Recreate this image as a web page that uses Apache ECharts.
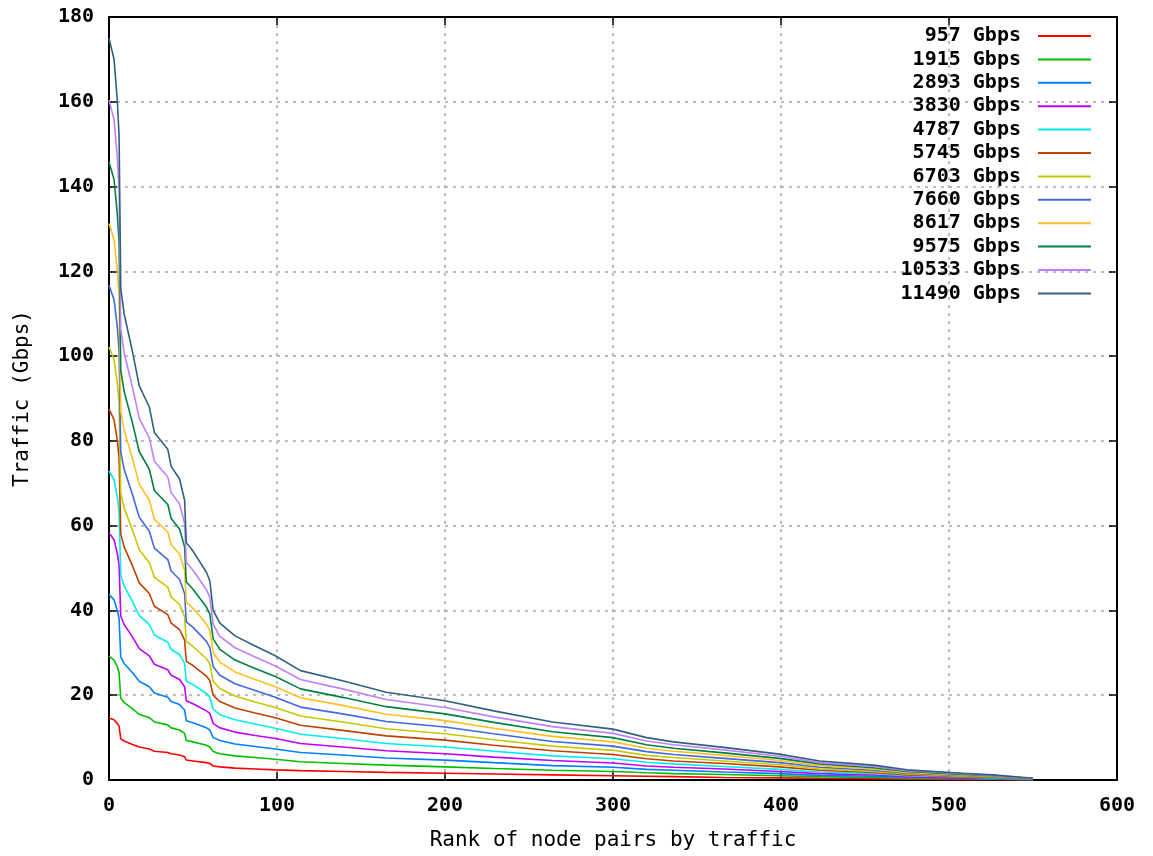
<!DOCTYPE html>
<html>
<head>
<meta charset="UTF-8">
<title>Traffic by node pair rank</title>
<script src="https://cdn.jsdelivr.net/npm/echarts@6/dist/echarts.min.js"></script>
<style type="text/css">
	*{margin:0;padding:0;}
	body{background:#fff;}
	#main{width:1153px;height:856px;}
</style>
</head>
<body>
<div id="main"></div>
<script type="text/javascript">
// rank of node pair (x) shared by every curve
var rank = [0,3,5,6,7,9,14,18,24,27,35,37,42,45,46,50,58,60,62,66,75,87,99,114,139,165,200,229,264,300,320,336,366,399,423,455,475,508,526,550];

// traffic (Gbps) per total load
var t957   = [14.6,14.2,13.3,12.7,9.7,9.2,8.4,7.8,7.3,6.8,6.5,6.2,5.9,5.5,4.7,4.5,4.1,3.9,3.3,3.1,2.8,2.6,2.4,2.2,2.0,1.8,1.6,1.4,1.2,1.0,0.9,0.8,0.6,0.5,0.4,0.3,0.2,0.1,0.1,0.05];
var t1915  = [29.2,28.3,26.7,25.3,19.3,18.3,16.8,15.5,14.7,13.7,13.0,12.3,11.8,11.0,9.3,9.0,8.2,7.8,6.7,6.2,5.7,5.3,4.9,4.3,3.9,3.5,3.1,2.7,2.3,2.0,1.7,1.5,1.3,1.0,0.8,0.6,0.4,0.3,0.2,0.07];
var t2893  = [43.8,42.5,40.0,38.0,29.0,27.5,25.3,23.3,22.0,20.5,19.5,18.5,17.8,16.5,14.0,13.5,12.3,11.8,10.0,9.3,8.5,7.9,7.3,6.5,5.9,5.2,4.7,4.1,3.4,3.0,2.5,2.3,1.9,1.5,1.1,0.9,0.6,0.4,0.3,0.1];
var t3830  = [58.3,56.7,53.3,50.7,38.7,36.7,33.7,31.0,29.3,27.3,26.0,24.7,23.7,22.0,18.7,18.0,16.3,15.7,13.3,12.3,11.3,10.5,9.8,8.6,7.8,6.9,6.2,5.4,4.6,4.0,3.3,3.0,2.6,2.0,1.5,1.2,0.8,0.5,0.4,0.13];
var t4787  = [72.9,70.8,66.7,63.3,48.3,45.8,42.1,38.8,36.7,34.2,32.5,30.8,29.6,27.5,23.3,22.5,20.4,19.6,16.7,15.4,14.2,13.2,12.2,10.8,9.8,8.6,7.8,6.8,5.7,5.0,4.2,3.8,3.2,2.5,1.9,1.5,1.0,0.7,0.5,0.17];
var t5745  = [87.5,85.0,80.0,76.0,58.0,55.0,50.5,46.5,44.0,41.0,39.0,37.0,35.5,33.0,28.0,27.0,24.5,23.5,20.0,18.5,17.0,15.8,14.7,12.9,11.7,10.4,9.4,8.2,6.9,6.0,5.0,4.5,3.9,3.1,2.3,1.8,1.2,0.8,0.6,0.2];
var t6703  = [102.1,99.2,93.3,88.7,67.7,64.2,58.9,54.3,51.3,47.8,45.5,43.2,41.4,38.5,32.7,31.5,28.6,27.4,23.3,21.6,19.8,18.4,17.1,15.1,13.7,12.1,10.9,9.5,8.0,7.0,5.8,5.3,4.5,3.6,2.6,2.0,1.4,0.9,0.7,0.23];
var t7660  = [116.7,113.3,106.7,101.3,77.3,73.3,67.3,62.0,58.7,54.7,52.0,49.3,47.3,44.0,37.3,36.0,32.7,31.3,26.7,24.7,22.7,21.1,19.5,17.2,15.6,13.8,12.5,10.9,9.1,8.0,6.7,6.0,5.1,4.1,3.0,2.3,1.6,1.1,0.8,0.27];
var t8617  = [131.3,127.5,120.0,114.0,87.0,82.5,75.8,69.8,66.0,61.5,58.5,55.5,53.3,49.5,42.0,40.5,36.8,35.3,30.0,27.8,25.5,23.7,22.0,19.4,17.6,15.5,14.0,12.2,10.3,9.0,7.5,6.8,5.8,4.6,3.4,2.6,1.8,1.2,0.9,0.3];
var t9575  = [145.8,141.7,133.3,126.7,96.7,91.7,84.2,77.5,73.3,68.3,65.0,61.7,59.2,55.0,46.7,45.0,40.8,39.2,33.3,30.8,28.3,26.3,24.4,21.5,19.5,17.3,15.6,13.6,11.4,10.0,8.3,7.5,6.4,5.1,3.8,2.9,2.0,1.3,1.0,0.33];
var t10533 = [160.4,155.8,146.7,139.3,106.3,100.8,92.6,85.3,80.7,75.2,71.5,67.8,65.1,60.5,51.3,49.5,44.9,43.1,36.7,33.9,31.2,29.0,26.9,23.7,21.5,19.0,17.1,14.9,12.6,11.0,9.2,8.3,7.1,5.6,4.1,3.2,2.2,1.5,1.1,0.37];
var t11490 = [175.0,170.0,160.0,152.0,116.0,110.0,101.0,93.0,88.0,82.0,78.0,74.0,71.0,66.0,56.0,54.0,49.0,47.0,40.0,37.0,34.0,31.6,29.3,25.8,23.4,20.7,18.7,16.3,13.7,12.0,10.0,9.0,7.7,6.1,4.5,3.5,2.4,1.6,1.2,0.4];

var seriesNames = ['957 Gbps','1915 Gbps','2893 Gbps','3830 Gbps','4787 Gbps','5745 Gbps','6703 Gbps','7660 Gbps','8617 Gbps','9575 Gbps','10533 Gbps','11490 Gbps'];
var seriesValues = [t957,t1915,t2893,t3830,t4787,t5745,t6703,t7660,t8617,t9575,t10533,t11490];
var colors = ['#ff0000','#00c000','#0080ff','#c000ff','#00eeee','#c04000','#c8c800','#4169e1','#ffc020','#008040','#c080ff','#306080'];

var font = 'DejaVu Sans Mono';
var series = [];
for (var i = 0; i < seriesNames.length; i++) {
	var pts = [];
	for (var j = 0; j < rank.length; j++) {
		pts.push([rank[j], seriesValues[i][j]]);
	}
	series.push({
		name: seriesNames[i],
		type: 'line',
		data: pts,
		showSymbol: false,
		symbol: 'none',
		lineStyle: {width: 1.6, color: colors[i]},
		itemStyle: {color: colors[i]},
		animation: false
	});
}

// gnuplot style: black frame, inward ticks on all four sides
function frameAxis(extra) {
	var a = {
		type: 'value',
		axisLine: {show: true, onZero: false, lineStyle: {color: '#000', width: 2}},
		axisTick: {show: true, inside: true, length: 8, lineStyle: {color: '#000', width: 1.5}},
		axisLabel: {show: false},
		splitLine: {show: false}
	};
	for (var k in extra) a[k] = extra[k];
	return a;
}

var myChart = echarts.init(document.getElementById('main'));
var option = {
	animation: false,
	color: colors,
	grid: {left: 109, right: 36, top: 17, bottom: 75},
	legend: {
		orient: 'vertical',
		align: 'right',
		right: 57,
		top: 21,
		itemWidth: 53,
		itemHeight: 2,
		itemGap: 3.4,
		icon: 'rect',
		itemStyle: {borderWidth: 0},
		formatter: function (name) { return name + ' '; },
		textStyle: {fontFamily: font, fontSize: 20, fontWeight: 'bold', color: '#000', lineHeight: 20},
		data: seriesNames
	},
	xAxis: [
		frameAxis({
			min: 0, max: 600, interval: 100,
			name: 'Rank of node pairs by traffic',
			nameLocation: 'middle', nameGap: 50,
			nameTextStyle: {fontFamily: font, fontSize: 21, color: '#000'},
			axisLabel: {show: true, fontFamily: font, fontSize: 20, fontWeight: 'bold', color: '#000', margin: 16},
			splitLine: {show: true, lineStyle: {color: '#a8a8a8', type: [3, 5], width: 1.5}}
		}),
		frameAxis({min: 0, max: 600, interval: 100, position: 'top'})
	],
	yAxis: [
		frameAxis({
			min: 0, max: 180, interval: 20,
			name: 'Traffic (Gbps)',
			nameLocation: 'middle', nameGap: 76, nameRotate: 90,
			nameTextStyle: {fontFamily: font, fontSize: 21, color: '#000'},
			axisLabel: {show: true, fontFamily: font, fontSize: 20, fontWeight: 'bold', color: '#000', margin: 15},
			splitLine: {show: true, lineStyle: {color: '#a8a8a8', type: [3, 5], width: 1.5}}
		}),
		frameAxis({min: 0, max: 180, interval: 20, position: 'right'})
	],
	series: series
};
myChart.setOption(option);
</script>
</body>
</html>
